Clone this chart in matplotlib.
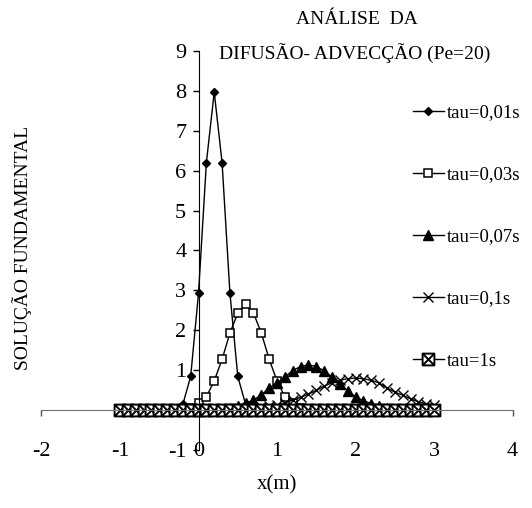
import matplotlib
matplotlib.use("Agg")
import matplotlib.pyplot as plt
from matplotlib.path import Path

plt.rcParams['font.family'] = ['Liberation Serif', 'DejaVu Serif']

# dados (x de -1 a 3, passo 0,1)
x = [-1.0, -0.9, -0.8, -0.7, -0.6, -0.5, -0.4, -0.3, -0.2, -0.1,
     0.0, 0.1, 0.2, 0.3, 0.4, 0.5, 0.6, 0.7, 0.8, 0.9,
     1.0, 1.1, 1.2, 1.3, 1.4, 1.5, 1.6, 1.7, 1.8, 1.9,
     2.0, 2.1, 2.2, 2.3, 2.4, 2.5, 2.6, 2.7, 2.8, 2.9, 3.0]

tau_001 = [0, 0, 0, 0, 0, 0, 0, 0, 0.14, 0.84,
           2.93, 6.2, 7.97, 6.2, 2.93, 0.84, 0.14, 0.01, 0, 0,
           0, 0, 0, 0, 0, 0, 0, 0, 0, 0,
           0, 0, 0, 0, 0, 0, 0, 0, 0, 0, 0]
tau_003 = [0, 0, 0, 0, 0, 0, 0, 0, 0.01, 0.05,
           0.17, 0.33, 0.73, 1.27, 1.93, 2.43, 2.66, 2.43, 1.93, 1.27,
           0.73, 0.33, 0.17, 0.05, 0.01, 0, 0, 0, 0, 0,
           0, 0, 0, 0, 0, 0, 0, 0, 0, 0, 0]
tau_007 = [0, 0, 0, 0, 0, 0, 0, 0, 0, 0,
           0, 0, 0.01, 0.03, 0.06, 0.1, 0.17, 0.25, 0.38, 0.55,
           0.68, 0.83, 0.99, 1.09, 1.13, 1.09, 0.98, 0.83, 0.66, 0.48,
           0.33, 0.23, 0.16, 0.1, 0.06, 0.03, 0, 0, 0, 0, 0]
tau_01 = [0, 0, 0, 0, 0, 0, 0, 0, 0, 0,
          0, 0, 0, 0, 0, 0.02, 0.03, 0.05, 0.07, 0.1,
          0.13, 0.18, 0.25, 0.32, 0.4, 0.49, 0.6, 0.68, 0.745, 0.785,
          0.8, 0.785, 0.745, 0.68, 0.55, 0.45, 0.37, 0.28, 0.21, 0.16, 0.12]
tau_1 = [0] * 41

labels = ["tau=0,01s", "tau=0,03s", "tau=0,07s", "tau=0,1s", "tau=1s"]

# marcador quadrado com X (estilo Excel)
box_x = Path([(-1, -1), (1, -1), (1, 1), (-1, 1), (-1, -1),
              (-1, -1), (1, 1), (-1, 1), (1, -1)],
             [Path.MOVETO, Path.LINETO, Path.LINETO, Path.LINETO, Path.CLOSEPOLY,
              Path.MOVETO, Path.LINETO, Path.MOVETO, Path.LINETO])

fig = plt.figure(figsize=(5.32, 5.08), dpi=100)
ax = fig.add_axes([0.078, 0.1144, 0.8855, 0.7852])

ax.plot(x, tau_001, color='black', lw=1, marker='D', ms=4, label=labels[0])
ax.plot(x, tau_003, color='black', lw=1, marker='s', ms=6.3, mfc='white',
        mew=1.1, label=labels[1])
ax.plot(x, tau_007, color='black', lw=1, marker='^', ms=7, label=labels[2])
ax.plot(x, tau_01, color='black', lw=1, marker='x', ms=7.5, mew=1, label=labels[3])
ax.plot(x, tau_1, color='black', lw=1, marker=box_x, ms=8.5, mfc='white',
        mew=1.4, label=labels[4])

ax.set_xlim(-2, 4)
ax.set_ylim(-1, 9)

ax.spines['top'].set_visible(False)
ax.spines['right'].set_visible(False)
ax.spines['bottom'].set_position(('data', 0))
ax.spines['left'].set_position(('data', 0))
ax.spines['bottom'].set_color('#707070')

ax.set_xticks([-2, -1, 0, 1, 2, 3, 4])
ax.set_xticklabels(['-2', '-1', '0', '1', '2', '3', '4'])
ax.set_yticks([-1, 0, 1, 2, 3, 4, 5, 6, 7, 8, 9])
ax.set_yticklabels(['-1', '', '1', '2', '3', '4', '5', '6', '7', '8', '9'])
ax.tick_params(axis='x', direction='out', length=4.3, width=1, pad=19,
               labelsize=16, color='#505050')
ax.tick_params(axis='y', direction='out', length=4.3, width=1, pad=4.5,
               labelsize=16)

fig.text(357 / 532, 1 - 20 / 508, "ANÁLISE  DA", ha='center', va='center',
         fontsize=14)
fig.text(355 / 532, 1 - 53 / 508, "DIFUSÃO- ADVECÇÃO (Pe=20)", ha='center',
         va='center', fontsize=14)
fig.text(22 / 532, 1 - 248 / 508, "SOLUÇÃO FUNDAMENTAL", rotation=90,
         ha='center', va='center', fontsize=14)
fig.text(277 / 532, 1 - 485 / 508, "x(m)", ha='center', va='center', fontsize=15)

fig.legend(loc='upper left', bbox_to_anchor=(413 / 532, 1 - 104 / 508),
           frameon=False, fontsize=13.5, handlelength=1.65, handletextpad=0.15,
           labelspacing=2.4, borderpad=0, borderaxespad=0)

fig.savefig("out.png", dpi=100)
